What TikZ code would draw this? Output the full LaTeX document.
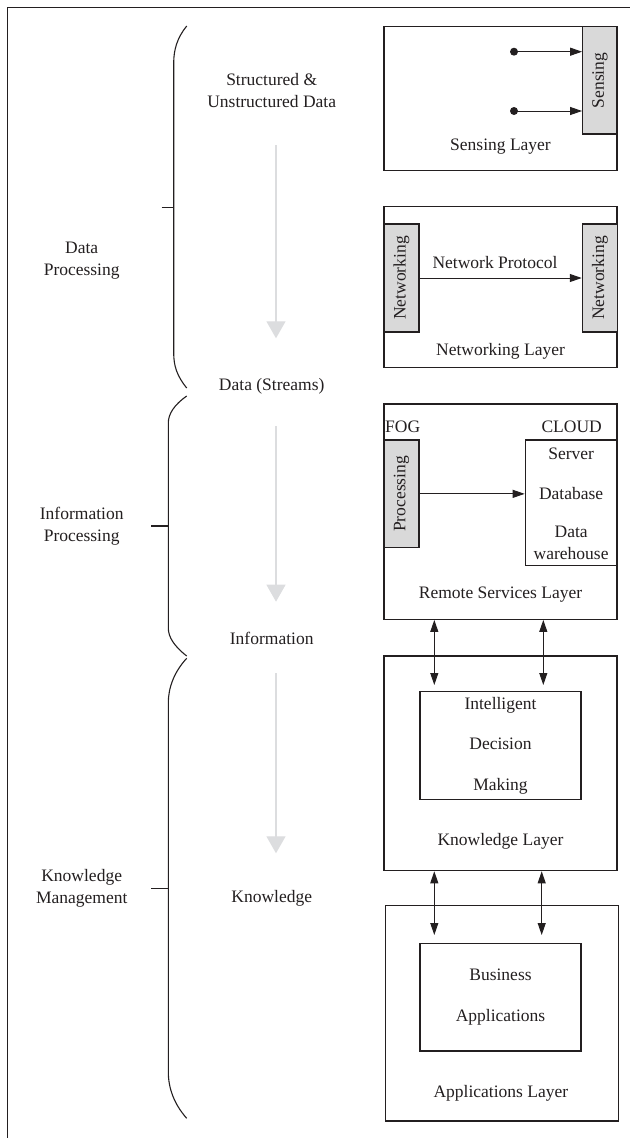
\documentclass[tikz,border=0pt]{standalone}
\usepackage{fontspec}
\setmainfont{Liberation Serif}
\usetikzlibrary{arrows.meta,calc}
\definecolor{ink}{RGB}{35,31,32}
\definecolor{fillg}{RGB}{217,217,217}
\definecolor{flowg}{RGB}{220,221,223}
\begin{document}
\begin{tikzpicture}[x=1pt,y=-1pt,
  txt/.style={font=\fontsize{17.5}{21.7}\selectfont, text=ink, inner sep=0pt, align=center},
  wide/.style={font=\fontsize{17.5}{40.5}\selectfont, text=ink, align=center},
  layerbox/.style={draw=ink, line width=1.2pt, minimum width=233pt, inner sep=0pt},
  innerbox/.style={draw=ink, line width=1.2pt, inner sep=0pt},
  graybox/.style={draw=ink, line width=1.2pt, fill=fillg, inner sep=0pt, rotate=90,
     font=\fontsize{17.5}{21.7}\selectfont, text=ink},
  arr/.style={-{Triangle[length=12pt,width=8pt]}, line width=1pt, draw=ink},
  darr/.style={{Triangle[length=12pt,width=8pt]}-{Triangle[length=12pt,width=8pt]}, line width=1pt, draw=ink},
  flow/.style={-{Triangle[length=17pt,width=19pt]}, line width=1.3pt, draw=flowg, fill=flowg},
  brace/.style={line width=1.1pt, draw=ink}
]
\useasboundingbox (0,0) rectangle (630,1138);
% frame
\draw[line width=1.3pt, ink] (7.3,1138) -- (7.3,7.3) -- (630,7.3);

% ---- Sensing layer
\node[layerbox, minimum height=144pt] (sl) at (500.5,98.7) {};
\node[graybox, minimum width=107.3pt, minimum height=34.3pt] (sens) at (599.85,80.35) {Sensing};
\coordinate (d1) at (514,51.7);
\coordinate (d2) at (514,111);
\fill[ink] (d1) circle (4pt);
\fill[ink] (d2) circle (4pt);
\draw[arr] (d1) -- (d1 -| sens.north);
\draw[arr] (d2) -- (d2 -| sens.north);
\node[txt] (sll) at (500.5,146.7) {Sensing Layer};

% ---- Networking layer
\node[layerbox, minimum height=161pt] (nl) at (500.5,287.2) {};
\node[graybox, minimum width=108pt, minimum height=35pt] (nwl) at (401.5,278) {Networking};
\node[graybox, minimum width=108pt, minimum height=35pt] (nwr) at (599.85,278) {Networking};
\draw[arr] (nwl.south) -- (nwr.north);
\node[txt] (np) at (495,263) {Network Protocol};
\node[txt] (nll) at (500.5,351.7) {Networking Layer};

% ---- Remote services layer
\node[layerbox, minimum height=215.3pt] (rs) at (500.5,511.65) {};
\node[graybox, minimum width=107.7pt, minimum height=35pt] (proc) at (401.5,493.85) {Processing};
\node[innerbox, minimum width=91.7pt, minimum height=125.7pt] (cloud) at (571.15,502.85) {};
\node[txt] (srv) at (571.15,454) {Server};
\node[txt] (db) at (571.15,493.3) {Database};
\node[txt] (dw) at (571.15,542.5) {Data\\warehouse};
\draw[arr] (proc.south) -- (proc.south -| cloud.west);
\node[txt, anchor=west] (fog) at (385,427) {FOG};
\node[txt, anchor=east] (cl) at (602,427) {CLOUD};
\node[txt] (rsl) at (500.5,594.3) {Remote Services Layer};

% ---- Knowledge layer
\node[layerbox, minimum height=214.7pt] (kl) at (500.5,763.35) {};
\node[innerbox, wide, minimum width=161pt, minimum height=107.6pt] (idm) at (500.5,745.5) {Intelligent\\Decision\\Making};
\node[txt] (kll) at (500.5,841.7) {Knowledge Layer};
\coordinate (a1) at (434.3,685);
\coordinate (a2) at (543.3,685);
\draw[darr] (a1 |- rs.south) -- (a1);
\draw[darr] (a2 |- rs.south) -- (a2);

% ---- Applications layer
\node[layerbox, minimum width=232.6pt, minimum height=215.3pt] (al) at (502,1013.35) {};
\node[innerbox, wide, minimum width=161pt, minimum height=107.7pt] (ba) at (500.5,997.15) {Business\\Applications};
\node[txt] (all) at (500.8,1093.3) {Applications Layer};
\coordinate (a3) at (434.3,935);
\coordinate (a4) at (541.7,935);
\draw[darr] (a3 |- kl.south) -- (a3);
\draw[darr] (a4 |- kl.south) -- (a4);

% ---- middle column
\node[txt] (sud) at (271.7,90.5) {Structured \&\\Unstructured Data};
\node[txt] (ds) at (271.7,386.7) {Data (Streams)};
\node[txt] (inf) at (271.7,638.3) {Information};
\node[txt] (kn) at (271.7,898.3) {Knowledge};
\coordinate (f1s) at (276,145);   \coordinate (f1e) at (276,338.3);
\coordinate (f2s) at (276,426);   \coordinate (f2e) at (276,601.7);
\coordinate (f3s) at (276,673.3); \coordinate (f3e) at (276,853.3);
\draw[flow] (f1s) -- (f1e);
\draw[flow] (f2s) -- (f2e);
\draw[flow] (f3s) -- (f3e);

% ---- left column
\node[txt] (dp) at (81.7,261) {Data\\Processing};
\node[txt] (ip) at (81.7,526) {Information\\Processing};
\node[txt] (km) at (81.7,888.3) {Knowledge\\Management};

\draw[brace] (186.7,26) .. controls (177,38) and (173.7,50) .. (173.7,63) -- (173.7,353)
   .. controls (173.7,366) and (177,376) .. (186.7,388);
\draw[brace] (161.7,207.3) -- (173.7,207.3);
\draw[brace] (186.7,396) .. controls (174,405) and (168.3,414) .. (168.3,423) -- (168.3,628)
   .. controls (168.3,637) and (174,646) .. (186.7,656);
\draw[brace] (151,526) -- (168.3,526);
\draw[brace] (186.7,658.3) .. controls (174,672) and (168.3,688) .. (168.3,702.7) -- (168.3,1071.7)
   .. controls (168.3,1088) and (174,1104) .. (186.7,1118.3);
\draw[brace] (151,888.3) -- (168.3,888.3);
\end{tikzpicture}
\end{document}
